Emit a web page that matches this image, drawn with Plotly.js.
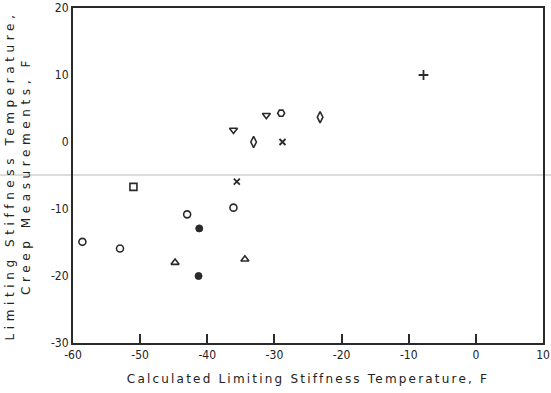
<!DOCTYPE html>
<html>
<head>
<meta charset="utf-8">
<script src="https://cdn.plot.ly/plotly-3.0.1.min.js"></script>
<style>
html,body{margin:0;padding:0;background:#fff;}
#chart{width:551px;height:393px;}
.xtitle{letter-spacing:2.2px;}
.ytitle{letter-spacing:4.6px;}
</style>
</head>
<body>
<div id="chart"></div>
<script>
// Calculated limiting stiffness temperature (F) vs creep-measured value (F), grouped by plot symbol
const invTriX = [-36.1, -31.2];
const invTriY = [1.8, 4.0];
const halfCircX = [-29.0];
const halfCircY = [4.3];
const ovalX = [-33.1, -23.2];
const ovalY = [0.0, 3.7];
const crossXX = [-28.8, -35.6];
const crossXY = [0.0, -5.9];
const plusX = [-7.8];
const plusY = [10.0];
const squareX = [-51.0];
const squareY = [-6.7];
const openCircX = [-36.1, -43.0, -58.6, -53.0];
const openCircY = [-9.8, -10.8, -14.9, -15.9];
const filledCircX = [-41.2, -41.3];
const filledCircY = [-12.9, -20.0];
const triX = [-44.8, -34.4];
const triY = [-18.0, -17.5];

const xTicks = [-60, -50, -40, -30, -20, -10, 0, 10];
const yTicks = [-30, -20, -10, 0, 10, 20];

const ink = '#2a2a2a';
function tr(x, y, symbol, size, lw) {
  return {
    x: x, y: y, type: 'scatter', mode: 'markers', hoverinfo: 'x+y',
    marker: {symbol: symbol, size: size || 7, color: ink, line: {color: ink, width: lw || 1.6}}
  };
}

const data = [
  tr(invTriX, invTriY, 'triangle-down-open', 7),
  tr(halfCircX, halfCircY, 'hexagon2-open', 7),
  tr(ovalX, ovalY, 'diamond-tall-open', 8),
  tr(crossXX, crossXY, 'x-thin-open', 6, 1.8),
  tr(plusX, plusY, 'cross-thin-open', 7, 1.8),
  tr(squareX, squareY, 'square-open', 7),
  tr(openCircX, openCircY, 'circle-open', 7),
  tr(filledCircX, filledCircY, 'circle', 7, 1),
  tr(triX, triY, 'triangle-up-open', 7)
];

const tickFont = {family: '"DejaVu Sans Condensed", "DejaVu Sans", sans-serif', size: 12, color: '#222'};
const titleFont = {family: '"DejaVu Sans", sans-serif', size: 12, color: '#222'};

const layout = {
  width: 551, height: 393,
  margin: {l: 73, r: 8, t: 8, b: 50},
  paper_bgcolor: '#fff', plot_bgcolor: '#fff',
  showlegend: false,
  xaxis: {
    range: [-60, 10], tickvals: xTicks, ticktext: xTicks.map(String),
    ticks: 'inside', ticklen: 9, tickwidth: 2, tickcolor: ink,
    showline: true, linecolor: ink, linewidth: 2, mirror: true,
    showgrid: false, zeroline: false, tickfont: tickFont,
    title: {text: 'Calculated Limiting Stiffness Temperature, F', font: titleFont, standoff: 13}
  },
  yaxis: {
    range: [-30, 20], tickvals: yTicks, ticktext: yTicks.map(String),
    ticks: '', showline: true, linecolor: ink, linewidth: 2, mirror: true,
    showgrid: false, zeroline: false, tickfont: tickFont, ticklabelstandoff: 0,
    title: {text: 'Limiting Stiffness Temperature,<br>Creep Measurements, F', font: titleFont, standoff: 18}
  },
  shapes: [{
    type: 'line', xref: 'paper', yref: 'paper', x0: -0.16, x1: 1.02, y0: 0.5015, y1: 0.5015,
    line: {color: '#dcdcdc', width: 2}, layer: 'below'
  }]
};

Plotly.newPlot('chart', data, layout, {displayModeBar: false, staticPlot: true});
</script>
</body>
</html>
